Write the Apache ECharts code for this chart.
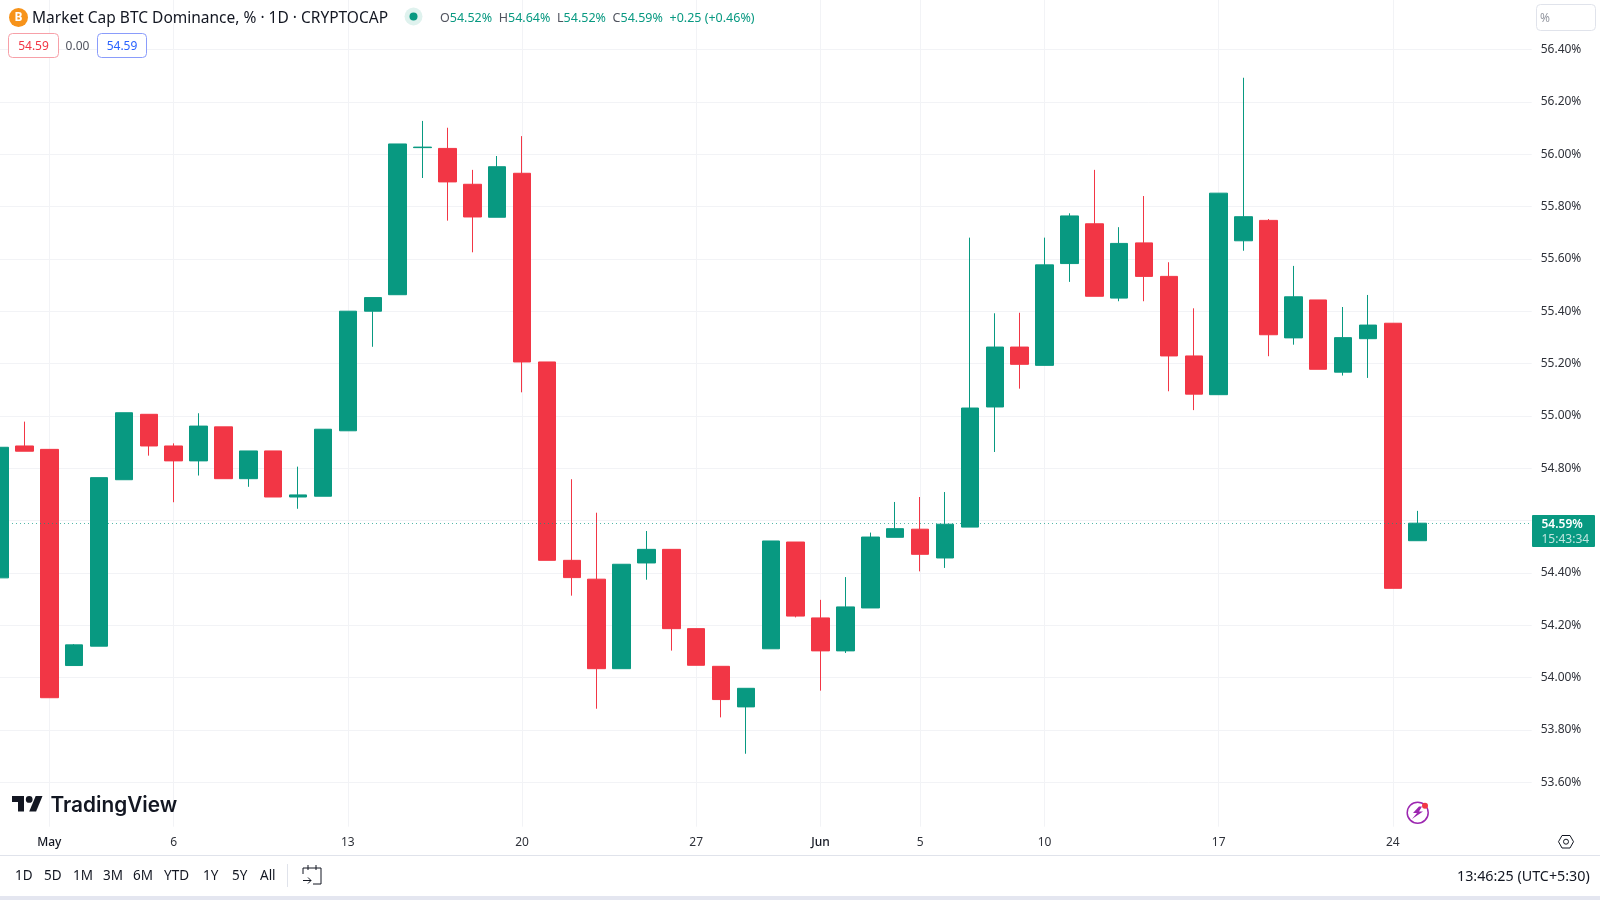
<!DOCTYPE html>
<html>
<head>
<meta charset="utf-8">
<title>Market Cap BTC Dominance</title>
<style>
  html, body { margin: 0; padding: 0; background: #fff; }
  #chart { width: 1600px; height: 900px; }
</style>
<script src="https://cdn.jsdelivr.net/npm/echarts@6/dist/echarts.min.js"></script>
</head>
<body>
<div id="chart"></div>
<script>
  const dates = [
    '2024-04-29', '2024-04-30', '2024-05-01', '2024-05-02', '2024-05-03', '2024-05-04', '2024-05-05', '2024-05-06',
    '2024-05-07', '2024-05-08', '2024-05-09', '2024-05-10', '2024-05-11', '2024-05-12', '2024-05-13', '2024-05-14',
    '2024-05-15', '2024-05-16', '2024-05-17', '2024-05-18', '2024-05-19', '2024-05-20', '2024-05-21', '2024-05-22',
    '2024-05-23', '2024-05-24', '2024-05-25', '2024-05-26', '2024-05-27', '2024-05-28', '2024-05-29', '2024-05-30',
    '2024-05-31', '2024-06-01', '2024-06-02', '2024-06-03', '2024-06-04', '2024-06-05', '2024-06-06', '2024-06-07',
    '2024-06-08', '2024-06-09', '2024-06-10', '2024-06-11', '2024-06-12', '2024-06-13', '2024-06-14', '2024-06-15',
    '2024-06-16', '2024-06-17', '2024-06-18', '2024-06-19', '2024-06-20', '2024-06-21', '2024-06-22', '2024-06-23',
    '2024-06-24', '2024-06-25'
  ]
  const opens = [
    54.381, 54.885, 54.872, 54.046, 54.120, 54.756, 55.006, 54.885,
    54.828, 54.958, 54.760, 54.866, 54.690, 54.693, 54.943, 55.400,
    55.463, 56.025, 56.022, 55.885, 55.759, 55.927, 55.206, 54.448,
    54.376, 54.034, 54.438, 54.490, 54.187, 54.043, 53.888, 54.110,
    54.518, 54.228, 54.102, 54.266, 54.536, 54.567, 54.457, 54.575,
    55.034, 55.263, 55.193, 55.582, 55.734, 55.450, 55.661, 55.533,
    55.229, 55.081, 55.669, 55.747, 55.298, 55.443, 55.167, 55.295,
    55.354, 54.523
  ]
  const closes = [
    54.880, 54.865, 53.923, 54.125, 54.764, 55.012, 54.885, 54.828,
    54.961, 54.760, 54.866, 54.690, 54.698, 54.949, 55.400, 55.452,
    56.039, 56.027, 55.894, 55.760, 55.952, 55.206, 54.448, 54.382,
    54.034, 54.433, 54.490, 54.187, 54.047, 53.916, 53.959, 54.522,
    54.235, 54.102, 54.270, 54.537, 54.569, 54.471, 54.586, 55.030,
    55.263, 55.197, 55.577, 55.764, 55.457, 55.659, 55.533, 55.229,
    55.083, 55.851, 55.761, 55.310, 55.455, 55.178, 55.299, 55.347,
    54.341, 54.590
  ]
  const lows = [
    54.381, 54.865, 53.923, 54.046, 54.120, 54.756, 54.848, 54.670,
    54.772, 54.760, 54.729, 54.690, 54.645, 54.693, 54.943, 55.264,
    55.463, 55.909, 55.746, 55.625, 55.759, 55.090, 54.448, 54.313,
    53.881, 54.034, 54.374, 54.103, 54.047, 53.848, 53.709, 54.110,
    54.230, 53.950, 54.094, 54.266, 54.536, 54.406, 54.419, 54.575,
    54.862, 55.104, 55.193, 55.512, 55.457, 55.438, 55.438, 55.094,
    55.022, 55.081, 55.631, 55.228, 55.272, 55.178, 55.154, 55.145,
    54.341, 54.523
  ]
  const highs = [
    54.880, 54.978, 54.872, 54.128, 54.764, 55.012, 55.006, 54.895,
    55.010, 54.958, 54.866, 54.866, 54.806, 54.949, 55.400, 55.452,
    56.039, 56.127, 56.101, 55.940, 55.993, 56.069, 55.206, 54.758,
    54.630, 54.433, 54.560, 54.490, 54.187, 54.043, 53.959, 54.522,
    54.518, 54.297, 54.384, 54.554, 54.671, 54.690, 54.709, 55.681,
    55.392, 55.394, 55.681, 55.774, 55.940, 55.721, 55.840, 55.587,
    55.411, 55.851, 56.292, 55.752, 55.573, 55.443, 55.416, 55.462,
    55.354, 54.637
  ]

  const yTicks = [53.6, 53.8, 54.0, 54.2, 54.4, 54.6, 54.8, 55.0, 55.2, 55.4, 55.6, 55.8, 56.0, 56.2, 56.4]
  // 54.60% sits under the last price tag in the original
  const yTickLabels = [53.6, 53.8, 54.0, 54.2, 54.4, 54.8, 55.0, 55.2, 55.4, 55.6, 55.8, 56.0, 56.2, 56.4]
  const xTickDates = ['2024-05-01', '2024-05-06', '2024-05-13', '2024-05-20', '2024-05-27', '2024-06-01', '2024-06-05', '2024-06-10', '2024-06-17', '2024-06-24']
  const xTickLabels = ['May', '6', '13', '20', '27', 'Jun', '5', '10', '17', '24']
  const rangeButtons = ['1D', '5D', '1M', '3M', '6M', 'YTD', '1Y', '5Y', 'All']
  const rangeButtonX = [15, 44, 73, 103, 133, 164, 203, 232, 260]
  const legendValues = ['54.52%', '54.64%', '54.52%', '54.59%', '+0.25 (+0.46%)']
  const lastPrice = 54.59
  const countdown = '15:43:34'
  const clockText = '13:46:25 (UTC+5:30)'

  const UP = '#089981'
  const DOWN = '#f23645'
  const GRID = '#f2f3f6'
  const BORDER = '#e0e3eb'
  const TEXT = '#131722'
  const AXIS_TEXT = '#2f323a'
  const FONT = '"Noto Sans", sans-serif'

  // bars sit on a day index so the axis can be cut mid-bar like the original
  const xTickValues = xTickDates.map((d) => dates.indexOf(d))
  const candles = dates.map((d, i) => [i, opens[i], closes[i], lows[i], highs[i]])

  function label(x, y, text, extra) {
    return {
      type: 'text',
      x: x,
      y: y,
      silent: true,
      style: Object.assign({ text: text, fill: TEXT, font: '13.5px ' + FONT, verticalAlign: 'middle' }, extra)
    }
  }

  function stroke(points, color) {
    return {
      type: 'polyline',
      silent: true,
      shape: { points: points },
      style: { fill: 'none', stroke: color || TEXT, lineWidth: 1 }
    }
  }

  const graphics = [
    // toolbar frame
    { type: 'rect', shape: { x: 0, y: 855, width: 1600, height: 1 }, style: { fill: BORDER }, silent: true },
    { type: 'rect', shape: { x: 0, y: 896, width: 1600, height: 4 }, style: { fill: '#e4e6f0' }, silent: true },
    { type: 'rect', shape: { x: 287, y: 864, width: 1, height: 23 }, style: { fill: BORDER }, silent: true },

    // symbol badge and title
    { type: 'circle', shape: { cx: 18.5, cy: 17.5, r: 9.5 }, style: { fill: '#f7931a' }, silent: true },
    label(18.5, 18, 'B', { fill: '#fff', font: 'bold 12px ' + FONT, textAlign: 'center' }),
    label(32, 18.5, 'Market Cap BTC Dominance, % · 1D · CRYPTOCAP', { font: '15.5px ' + FONT }),
    { type: 'circle', shape: { cx: 413.5, cy: 16.5, r: 9 }, style: { fill: '#dff2ee' }, silent: true },
    { type: 'circle', shape: { cx: 413.5, cy: 16.5, r: 4 }, style: { fill: UP }, silent: true },

    // ohlc readout
    {
      type: 'text',
      x: 440,
      y: 18,
      silent: true,
      style: {
        text: '{k|O}{v|' + legendValues[0] + '}  {k|H}{v|' + legendValues[1] + '}  {k|L}{v|' + legendValues[2] + '}  {k|C}{v|' + legendValues[3] + '}  {v|' + legendValues[4] + '}',
        verticalAlign: 'middle',
        rich: {
          k: { fill: '#50535e', font: '12.5px ' + FONT },
          v: { fill: UP, font: '12.5px ' + FONT }
        }
      }
    },

    // indicator boxes
    { type: 'rect', shape: { x: 8.5, y: 33.5, width: 50, height: 24, r: 4 }, style: { fill: '#fff', stroke: '#f7a0a8' }, silent: true },
    label(33.5, 47, '54.59', { fill: DOWN, font: '12px ' + FONT, textAlign: 'center' }),
    label(77.5, 47, '0.00', { fill: '#50535e', font: '12px ' + FONT, textAlign: 'center' }),
    { type: 'rect', shape: { x: 97.5, y: 33.5, width: 49, height: 24, r: 4 }, style: { fill: '#fff', stroke: '#8a9cfb' }, silent: true },
    label(122, 47, '54.59', { fill: '#2962ff', font: '12px ' + FONT, textAlign: 'center' }),

    // unit box
    { type: 'rect', shape: { x: 1536.5, y: 4.5, width: 59, height: 26, r: 4 }, style: { fill: '#fff', stroke: BORDER }, silent: true },
    label(1540, 18.5, '%', { fill: '#9598a1', font: '12px ' + FONT }),

    // last price tag
    { type: 'rect', shape: { x: 1532, y: 515, width: 63, height: 32, r: 1 }, style: { fill: UP }, silent: true },
    label(1541.5, 524.5, lastPrice.toFixed(2) + '%', { fill: '#fff', font: '600 12px ' + FONT }),
    label(1541.5, 539.5, countdown, { fill: 'rgba(255,255,255,0.75)', font: '12px ' + FONT }),

    // logo
    { type: 'polygon', silent: true, shape: { points: [[12, 796], [24, 796], [24, 811.5], [18, 811.5], [18, 802], [12, 802]] }, style: { fill: TEXT } },
    { type: 'polygon', silent: true, shape: { points: [[35.7, 796], [42.5, 796], [36.1, 811.5], [29.2, 811.5]] }, style: { fill: TEXT } },
    { type: 'circle', silent: true, shape: { cx: 29.2, cy: 799.4, r: 3.4 }, style: { fill: TEXT } },
    label(50.5, 806, 'TradingView', { font: '600 20.8px Inter, ' + FONT }),

    // lightning badge
    { type: 'circle', shape: { cx: 1417.7, cy: 812.7, r: 10.5 }, style: { fill: 'none', stroke: '#9c27b0', lineWidth: 1.5 }, silent: true },
    {
      type: 'polygon',
      silent: true,
      shape: { points: [[1419, 806.5], [1413, 813], [1417, 813], [1412, 819], [1423, 811.5], [1419, 811.5], [1422, 806.5]] },
      style: { fill: '#9c27b0' }
    },
    { type: 'circle', shape: { cx: 1425, cy: 805.7, r: 3 }, style: { fill: DOWN }, silent: true },

    // axis settings icon
    {
      type: 'polygon',
      silent: true,
      shape: { points: [[1558.5, 841.7], [1562, 835.5], [1570, 835.5], [1573.5, 841.7], [1570, 848], [1562, 848]] },
      style: { fill: 'none', stroke: TEXT, lineWidth: 1 }
    },
    { type: 'circle', shape: { cx: 1566, cy: 841.7, r: 2.5 }, style: { fill: 'none', stroke: TEXT, lineWidth: 1 }, silent: true },

    // calendar icon
    stroke([[303, 874], [303, 868], [321, 868], [321, 884], [313, 884]]),
    stroke([[308, 865], [308, 870]]),
    stroke([[316, 865], [316, 870]]),
    stroke([[303, 880.5], [311, 880.5]]),
    stroke([[308, 877.5], [311, 880.5], [308, 883.5]]),

    label(1457, 876.5, clockText, { font: '14.3px ' + FONT })
  ]

  rangeButtons.forEach((text, i) => {
    graphics.push(label(rangeButtonX[i], 876.5, text))
  })

  // keep header and tags above the grid lines
  graphics.forEach((g) => { g.z = 100 })

  const chart = echarts.init(document.getElementById('chart'), null, { renderer: 'canvas' })

  chart.setOption({
    animation: false,
    backgroundColor: '#fff',
    textStyle: { fontFamily: FONT },
    grid: { left: 0, top: 0, width: 1531.7, height: 826.7 },
    xAxis: {
      type: 'value',
      min: 0.0185,
      max: 61.58,
      axisLine: { show: false },
      axisTick: { show: false, customValues: xTickValues },
      splitLine: { show: true, lineStyle: { color: GRID, width: 1 } },
      axisLabel: {
        customValues: xTickValues,
        margin: 10,
        color: AXIS_TEXT,
        fontSize: 12,
        fontFamily: FONT,
        hideOverlap: false,
        formatter: (value) => {
          const text = xTickLabels[xTickValues.indexOf(value)]
          return isNaN(text) ? '{m|' + text + '}' : text
        },
        rich: { m: { fontWeight: 500, fontSize: 12, color: TEXT, fontFamily: FONT } }
      }
    },
    yAxis: {
      type: 'value',
      position: 'right',
      scale: true,
      min: 53.4302,
      max: 56.5891,
      axisLine: { show: false },
      axisTick: { show: false, customValues: yTicks },
      splitLine: { show: true, lineStyle: { color: GRID, width: 1 } },
      axisLabel: {
        customValues: yTickLabels,
        margin: 9,
        padding: [4, 0, 0, 0],
        color: AXIS_TEXT,
        fontSize: 12,
        fontFamily: FONT,
        formatter: (value) => value.toFixed(2) + '%'
      }
    },
    series: [{
      type: 'candlestick',
      data: candles,
      encode: { x: 0, y: [1, 2, 3, 4] },
      barWidth: 18,
      itemStyle: {
        color: UP,
        color0: DOWN,
        borderColor: UP,
        borderColor0: DOWN,
        borderWidth: 1
      },
      markLine: {
        silent: true,
        symbol: 'none',
        animation: false,
        label: { show: false },
        lineStyle: { color: UP, type: [1, 3], width: 1, opacity: 0.7 },
        data: [{ yAxis: lastPrice }]
      }
    }],
    graphic: graphics
  })
</script>
</body>
</html>
